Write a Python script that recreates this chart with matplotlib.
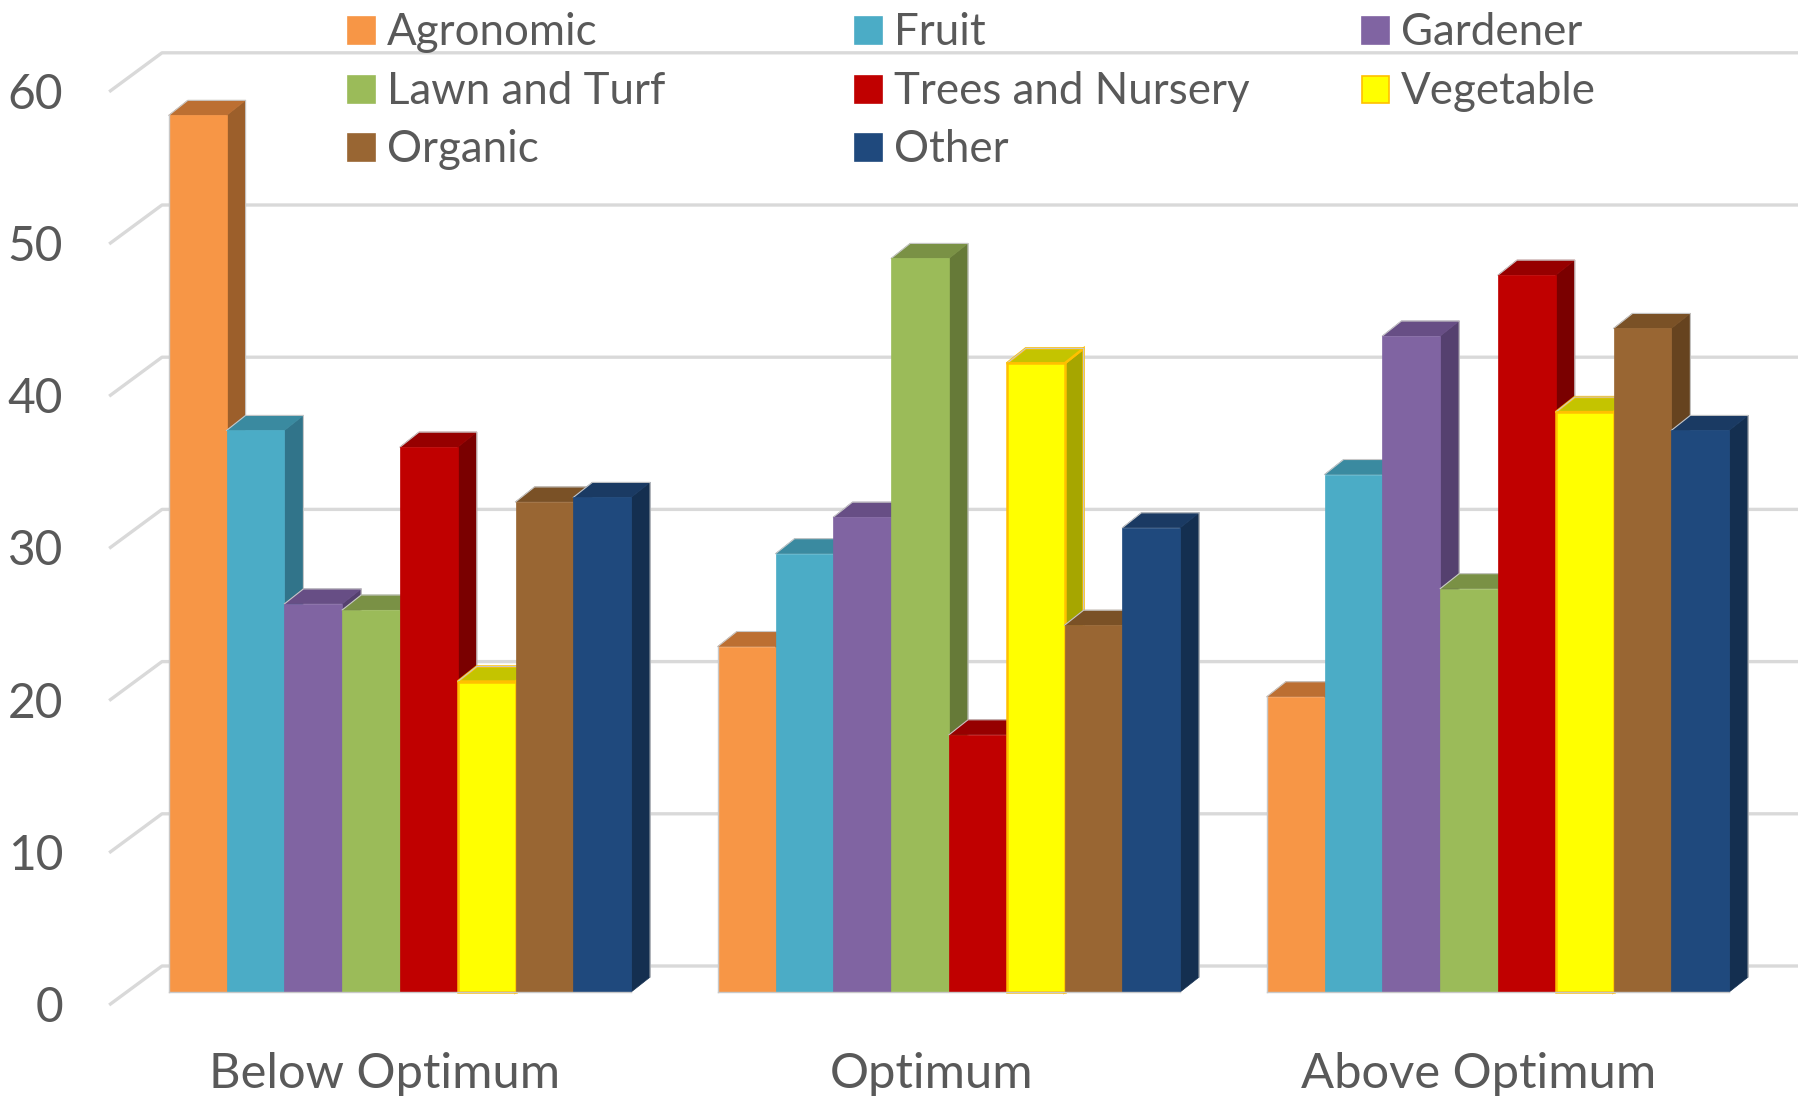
import matplotlib
matplotlib.use("Agg")
import matplotlib.pyplot as plt
from matplotlib.patches import Polygon, Rectangle

plt.rcParams['font.family'] = ['Lato', 'DejaVu Sans']

categories = ["Below Optimum", "Optimum", "Above Optimum"]
series = ["Agronomic", "Fruit", "Gardener", "Lawn and Turf",
          "Trees and Nursery", "Vegetable", "Organic", "Other"]

agronomic = [57.6, 22.7, 19.4]
fruit = [36.9, 28.8, 34.0]
gardener = [25.5, 31.2, 43.1]
lawn_turf = [25.1, 48.2, 26.5]
trees_nursery = [35.8, 16.9, 47.1]
vegetable = [20.4, 41.3, 38.1]
organic = [32.2, 24.1, 43.6]
other = [32.5, 30.5, 36.9]
values = [agronomic, fruit, gardener, lawn_turf,
          trees_nursery, vegetable, organic, other]

y_ticks = [0, 10, 20, 30, 40, 50, 60]

# front, side and top shades of each series
front = ["#F79646", "#4BACC6", "#8064A2", "#9BBB59",
         "#C00000", "#FFFF00", "#996633", "#1F497D"]
side = ["#9C5F2B", "#31748A", "#55406F", "#667A38",
        "#7A0000", "#A6A600", "#66431F", "#142F50"]
top = ["#BC6F32", "#3A8AA0", "#674E85", "#7A9145",
       "#960000", "#C4C400", "#7A5126", "#1A3A63"]

TEXT = "#595959"
GRID = "#D9D9D9"
OUTLINE = "#C8C8C8"
VEG_EDGE = "#FFC000"
VEG_INDEX = series.index("Vegetable")

W, H = 1799, 1097
PX_X = 549.0     # pixels per category
PX_Y = 15.22     # pixels per value unit
X0 = 400.0       # pixel of the first category centre
Y0 = 992.0       # pixel of the value-0 front edge

fig = plt.figure(figsize=(W / 100, H / 100), dpi=100, facecolor="white")
ax = fig.add_axes([0, 0, 1, 1])
ax.set_xlim(-X0 / PX_X, (W - X0) / PX_X)
ax.set_ylim((Y0 - H) / PX_Y, Y0 / PX_Y)
ax.axis("off")

# oblique projection offsets, in data units
bar_dx, bar_dy = 19 / PX_X, 15 / PX_Y
wall_dy = 26 / PX_Y
wall_x = (162 - X0) / PX_X
floor_x = (110.5 - X0) / PX_X
floor_dy = 38 / PX_Y

# back wall and side wall gridlines, with the value labels at their front ends
for v in y_ticks:
    yw = v + wall_dy
    ax.plot([floor_x, wall_x, (W - X0) / PX_X], [yw - floor_dy, yw, yw],
            color=GRID, lw=2.4, zorder=1, solid_joinstyle="round")
    ax.text((63 - X0) / PX_X, yw - floor_dy, str(v), ha="right",
            va="center_baseline", fontsize=34.5, color=TEXT, zorder=200)

bar_w = 1 / 9.5
z = 10
for c in range(len(categories)):
    for s in range(len(series)):
        v = values[s][c]
        x0 = c + (s - 4) * bar_w
        x1 = x0 + bar_w
        is_veg = s == VEG_INDEX
        ec_side = VEG_EDGE if is_veg else side[s]
        ec_top = VEG_EDGE if is_veg else top[s]
        ec_front = VEG_EDGE if is_veg else front[s]
        lw = 1.8 if is_veg else 0.5
        ax.add_patch(Polygon([(x1, 0), (x1 + bar_dx, bar_dy),
                              (x1 + bar_dx, v + bar_dy), (x1, v)],
                             closed=True, fc=side[s], ec=ec_side, lw=lw, zorder=z))
        ax.add_patch(Polygon([(x0, v), (x1, v),
                              (x1 + bar_dx, v + bar_dy), (x0 + bar_dx, v + bar_dy)],
                             closed=True, fc=top[s], ec=ec_top, lw=lw, zorder=z))
        # faint outline on the far edges of the box
        ax.plot([x0, x0 + bar_dx, x1 + bar_dx, x1 + bar_dx],
                [v, v + bar_dy, v + bar_dy, bar_dy],
                color=OUTLINE, lw=0.8, zorder=z)
        ax.bar(x0, v, width=bar_w, align="edge", color=front[s],
               edgecolor=ec_front, linewidth=lw, zorder=z + 1)
        z += 2
    # grey rule down the left side and along the base of each group
    group_left = c - 4 * bar_w
    ax.plot([group_left, group_left], [0, values[0][c]], color=OUTLINE, lw=1.0, zorder=z)
    ax.plot([group_left, group_left + 8 * bar_w], [0, 0], color=OUTLINE, lw=1.0, zorder=z)
    z += 1

# category labels
for c, name in enumerate(categories):
    ax.text(c * 547 / 549 - 15 / PX_X, (Y0 - 1074) / PX_Y, name, ha="center", va="center",
            fontsize=35.2, color=TEXT, zorder=200)

# legend, filled row by row
swatch_x = [348, 855, 1362]
row_y = [30.5, 89.5, 147.5]
for i, name in enumerate(series):
    row, col = divmod(i, 3)
    x, y = swatch_x[col], row_y[row]
    fig.add_artist(Rectangle((x / W, 1 - (y + 13.5) / H), 27 / W, 27 / H,
                             transform=fig.transFigure, fc=front[i],
                             ec=VEG_EDGE if i == VEG_INDEX else front[i], lw=1.2, zorder=300))
    fig.text((x + 39) / W, 1 - (y - 2) / H, name, ha="left", va="center_baseline",
             fontsize=31.6, color=TEXT, zorder=300)

fig.savefig("out.png", dpi=100, facecolor="white")
